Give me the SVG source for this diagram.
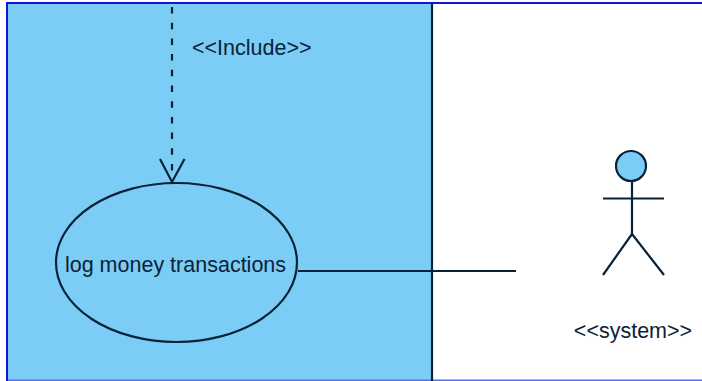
<svg xmlns="http://www.w3.org/2000/svg" width="702" height="381" viewBox="0 0 702 381">
  <style>
    .ln { fill: none; stroke: #0a2238; stroke-width: 2.200; }
    .lbl { font-family: "Liberation Sans", Arial, sans-serif; font-size: 21.500px; fill: #0c2238; }
  </style>
  <rect width="702" height="381" fill="#ffffff"/>
  <g id="boundary">
    <rect x="7" y="3" width="425" height="377" fill="#7bcdf5"/>
    <path d="M7 381V3H702" fill="none" stroke="#1414d8" stroke-width="2"/>
    <path d="M8 380.250H702" fill="none" stroke="#5a6ff0" stroke-width="1.500"/>
    <path d="M432 3V381" class="ln"/>
  </g>
  <g id="connectors">
    <path d="M172 7V176" class="ln" stroke-dasharray="6.500 9.200"/>
    <path d="M160 159L172 182L184.500 159" class="ln"/>
    <path d="M298 271H516" class="ln"/>
  </g>
  <g id="use-case">
    <ellipse cx="176.500" cy="262.500" rx="120.500" ry="79.500" class="ln"/>
    <text x="175.500" y="272" text-anchor="middle" class="lbl">log money transactions</text>
  </g>
  <g id="include-label">
    <text x="192" y="55" class="lbl">&lt;&lt;Include&gt;&gt;</text>
  </g>
  <g id="actor">
    <circle cx="631" cy="166" r="15" fill="#7bcdf5" stroke="#0a2238" stroke-width="2.200"/>
    <path d="M632 181V234M603 198.500H664M632 234L603 275M632 234L664 275" class="ln"/>
    <text x="633" y="338" text-anchor="middle" class="lbl">&lt;&lt;system&gt;&gt;</text>
  </g>
</svg>
